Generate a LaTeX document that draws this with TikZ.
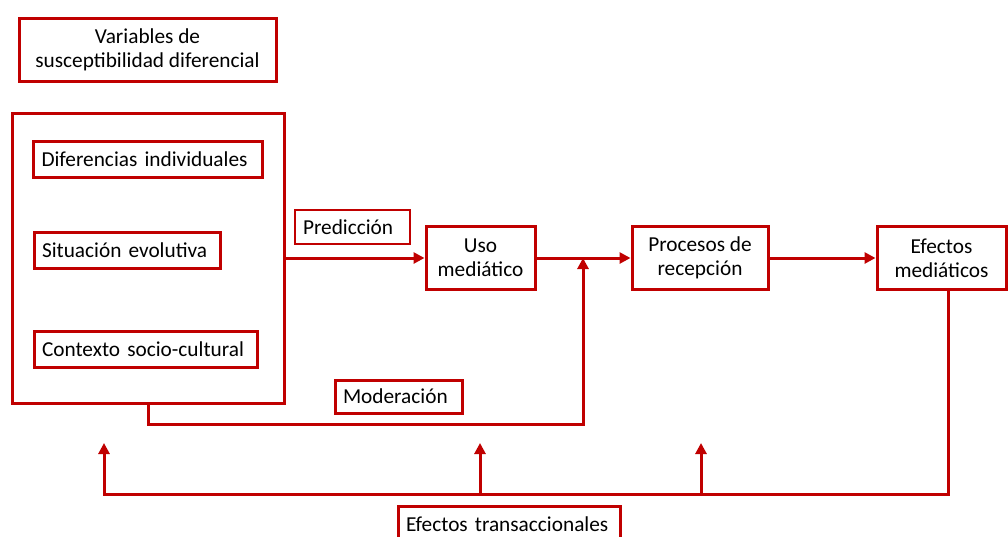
\documentclass[tikz,border=0pt]{standalone}
\usepackage{fontspec}
\setmainfont{Carlito}
\usetikzlibrary{arrows.meta}
\definecolor{dred}{HTML}{C00000}
\begin{document}
\begin{tikzpicture}[x=1pt,y=-1pt,
  every node/.style={font=\fontsize{21.3}{24}\selectfont, text=black},
  cbox/.style={draw=dred, line width=3pt, align=center, inner sep=0pt},
  lbox/.style={draw=dred, line width=3pt, align=left, inner xsep=8pt, inner ysep=0pt},
  tbox/.style={draw=dred, line width=1.6pt, align=left, inner xsep=8pt, inner ysep=0pt},
  conn/.style={draw=dred, line width=3pt},
  arr/.style={conn, -{Triangle[length=11pt,width=11pt]}}
]
\useasboundingbox (0,0) rectangle (1008,536);
\node[cbox, minimum width=257pt, minimum height=63pt] (var) at (147.5,49.5) {Variables de\\susceptibilidad diferencial};
\node[cbox, minimum width=272pt, minimum height=290pt] (big) at (148,258) {};
\node[lbox, text width=213pt, minimum height=36pt] (dif) at (148,159) {Diferencias individuales};
\node[lbox, text width=170pt, minimum height=36pt] (sit) at (127,250) {Situación evolutiva};
\node[lbox, text width=207pt, minimum height=36pt] (con) at (145.5,349) {Contexto socio-cultural};
\node[tbox, text width=99pt, minimum height=34pt] (pred) at (352.5,227) {Predicción};
\node[cbox, minimum width=109pt, minimum height=63pt] (uso) at (480.5,258) {Uso\\mediático};
\node[cbox, minimum width=136pt, minimum height=63pt] (proc) at (700,258) {Procesos de\\recepción};
\node[cbox, minimum width=129pt, minimum height=63pt] (efe) at (941.5,258) {Efectos\\mediáticos};
\node[lbox, text width=111pt, minimum height=33pt] (mod) at (398.5,396.5) {Moderación};
\node[lbox, text width=206pt, minimum height=36pt, anchor=north] (trans) at (509,505) {Efectos transaccionales};
\coordinate (m) at (583,258);
\coordinate (eb) at (948,289.5);
\coordinate (b0) at (104,494);
\coordinate (b1) at (480,494);
\coordinate (b2) at (701,494);
\coordinate (t0) at (104,443);
\coordinate (t1) at (480,443);
\coordinate (t2) at (701,443);
\draw[arr] (big.east) -- (uso.west);
\draw[arr] (uso.east) -- (proc.west);
\draw[arr] (proc.east) -- (efe.west);
\draw[arr] (big.south) -- ++(0,20) -| (m);
\draw[arr] (eb) |- (b0) -- (t0);
\draw[arr] (b1) -- (t1);
\draw[arr] (b2) -- (t2);
\end{tikzpicture}
\end{document}
